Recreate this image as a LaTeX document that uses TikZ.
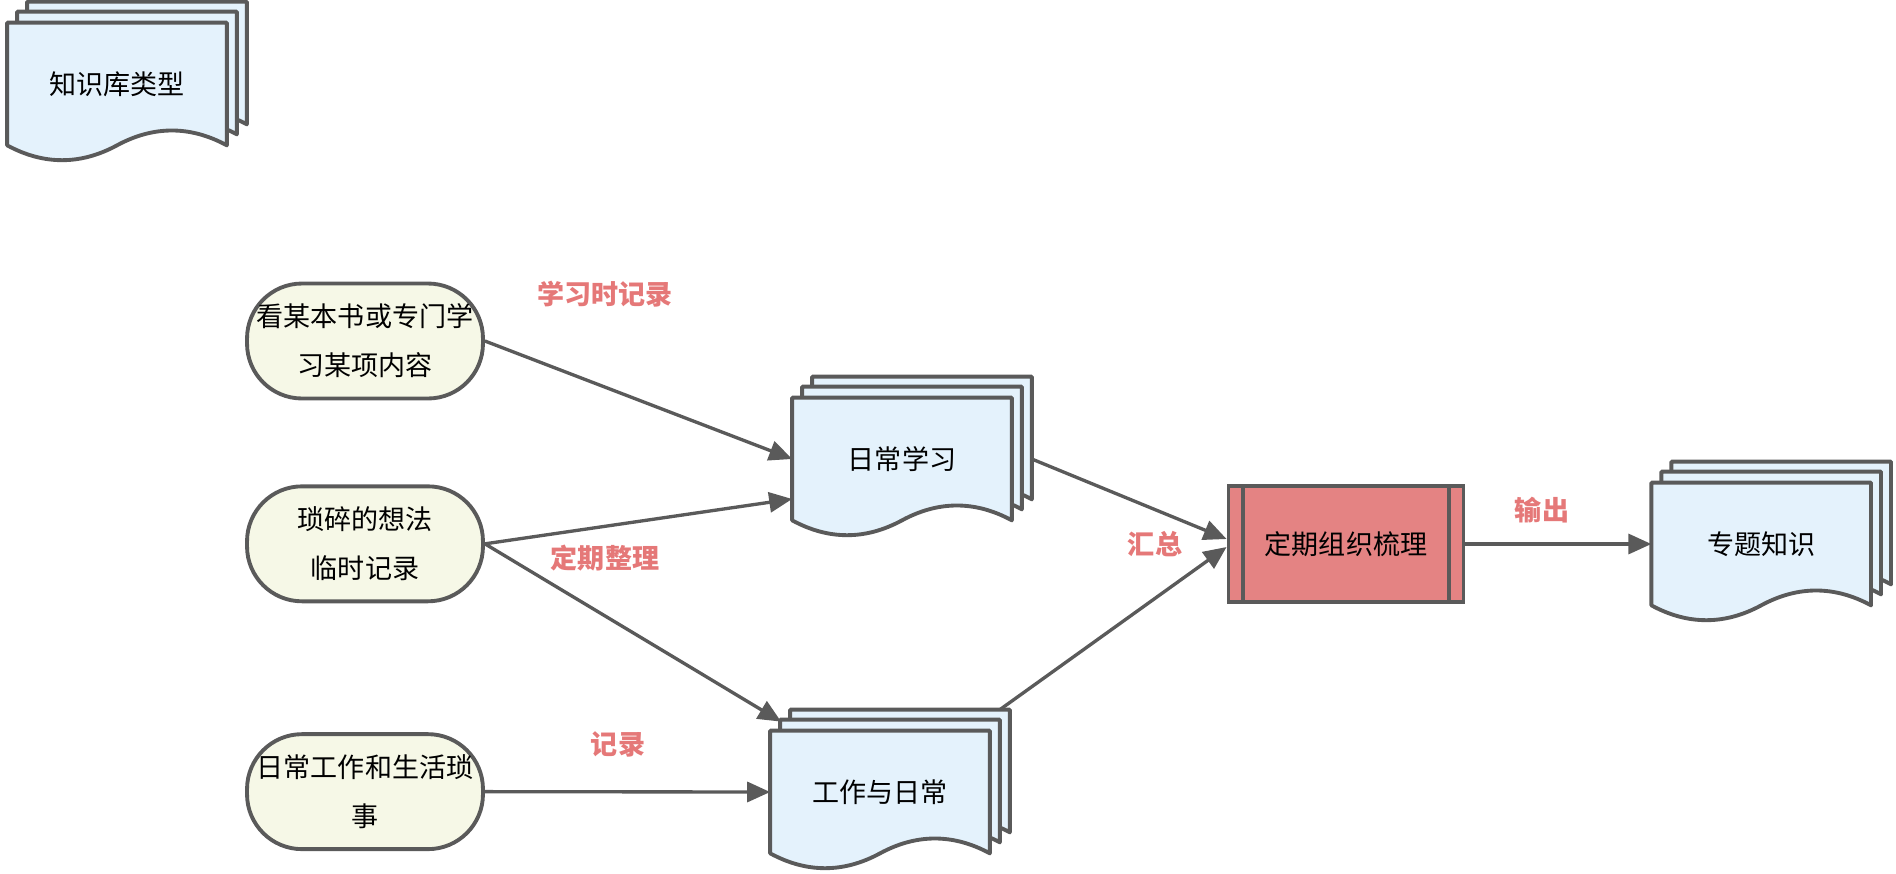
\documentclass[tikz,border=0pt]{standalone}
\usepackage{fontspec}
\usepackage{xcolor}
\usetikzlibrary{arrows.meta,positioning,backgrounds}
\newfontfamily\cjk{Noto Sans CJK SC}
\definecolor{docblue}{HTML}{E4F2FC}
\definecolor{srcyellow}{HTML}{F6F8E7}
\definecolor{procred}{HTML}{E48383}
\definecolor{labelred}{HTML}{E57878}
\definecolor{linegray}{HTML}{5A5A5A}
\tikzset{
  src/.style={
    draw=linegray,
    line width=2.2pt,
    rounded corners=1.1cm,
    minimum width=4.72cm,
    minimum height=2.3cm,
    inner sep=0pt,
    align=center,
    font=\cjk\fontsize{15.4pt}{27.9pt}\selectfont,
    fill=srcyellow
  },
  doc/.style={
    minimum width=4.38cm,
    minimum height=2.44cm,
    inner sep=0pt,
    align=center,
    font=\cjk\fontsize{15.4pt}{27.9pt}\selectfont
  },
  page/.style={
    draw=linegray,
    line width=2.2pt,
    line join=round,
    fill=docblue
  },
  proc/.style={
    draw=linegray,
    line width=2.2pt,
    minimum width=4.7cm,
    minimum height=2.32cm,
    inner sep=0pt,
    font=\cjk\fontsize{15.4pt}{27.9pt}\selectfont,
    fill=procred,
    path picture={
      \draw[line width=2.2pt, draw=linegray]
        ([xshift=0.29cm]path picture bounding box.north west) -- ([xshift=0.29cm]path picture bounding box.south west)
        ([xshift=-0.29cm]path picture bounding box.north east) -- ([xshift=-0.29cm]path picture bounding box.south east);
    }
  },
  lbl/.style={
    inner sep=0pt,
    font=\cjk\bfseries\fontsize{15.4pt}{27.9pt}\selectfont,
    text=labelred
  },
  flow/.style={-{Triangle[length=0.46cm,width=0.4cm]}, line width=1.9pt, draw=linegray}
}
\newcommand{\docpage}[3]{%
  \draw[page] ([shift={(#2,#3)}]#1.north east) -- ([shift={(#2,#3)}]#1.north west)
    -- ([shift={(#2,#3)}]#1.south west)
    .. controls +(36.5,19.8) and +(-36.5,19.8) .. ([shift={(#2,#3)}]#1.south)
    .. controls +(36.5,-19.8) and +(-36.5,-19.8) .. ([shift={(#2,#3)}]#1.south east) -- cycle;}
\newcommand{\docstack}[1]{\docpage{#1}{20}{-21}\docpage{#1}{10}{-11}\docpage{#1}{0}{0}}

\begin{document}
\begin{tikzpicture}[x=0.02cm, y=-0.02cm]
  \useasboundingbox (0,0) rectangle (1896,873);

  \node[doc] (kind) at (117,84) {知识库类型};

  \node[src] (book) at (365,341) {看某本书或专门学\\习某项内容};
  \node[src, below=1.68cm of book] (idea) {琐碎的想法\\临时记录};
  \node[src, below=2.58cm of idea] (work) {日常工作和生活琐\\事};

  \node[doc] (study) at (902,459) {日常学习};
  \node[doc] (daily) at (880,792) {工作与日常};
  \node[proc] (sort) at (1346,544) {定期组织梳理};
  \node[doc, right=3.72cm of sort] (topic) {专题知识};

  \node[lbl] (lstudy) at (605,294) {学习时记录};
  \node[lbl] (lsort) at (605,558) {定期整理};
  \node[lbl] (lwork) at (618,744) {记录};
  \node[lbl] (lsum) at (1155,544) {汇总};
  \node[lbl] (lout) at (1542,510) {输出};

  \begin{scope}[on background layer]
    \docstack{kind}
    \docstack{study}
    \docstack{daily}
    \docstack{topic}
  \end{scope}

  \draw[flow] (book.east) -- (study.west);
  \draw[flow] (idea.east) -- (study.200);
  \draw[flow] (idea.east) -- ([shift={(11,-9)}]daily.north west);
  \draw[flow] (work.east) -- (daily.west);

  \draw[flow] ([xshift=0.4cm]study.east) -- ([yshift=0.1cm]sort.west);
  \draw[flow] ([shift={(10,-21)}]daily.north east) -- ([yshift=-0.06cm]sort.west);

  \draw[flow] (sort.east) -- (topic.west);
\end{tikzpicture}
\end{document}
